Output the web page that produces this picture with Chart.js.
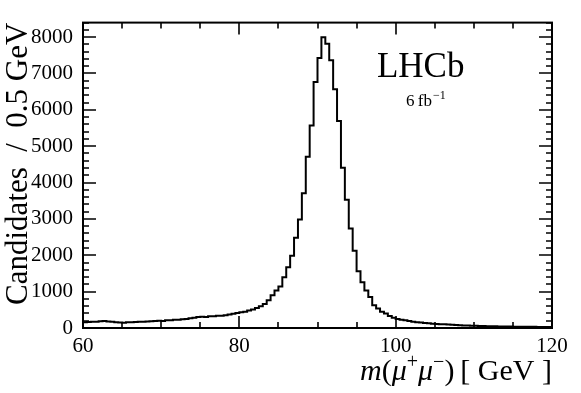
<!DOCTYPE html>
<html>
<head>
<meta charset="utf-8">
<script src="https://cdn.jsdelivr.net/npm/chart.js@4.4.1/dist/chart.umd.min.js"></script>
<style>
html,body{margin:0;padding:0;background:#fff;}
#wrap{width:581px;height:393px;}
</style>
</head>
<body>
<div id="wrap"><canvas id="c" width="581" height="393"></canvas></div>
<script>
// ---- data ----
const binStart = 60;      // GeV, lower edge of first bin
const binWidth = 0.5;     // GeV per bin
const counts = [
  160, 165, 170, 175, 185, 190, 180, 170, 160, 150,   // 60.0 - 64.5
  145, 155, 160, 165, 170, 175, 180, 185, 190, 200,   // 65.0 - 69.5
  195, 210, 215, 225, 230, 240, 250, 265, 280, 300,   // 70.0 - 74.5
  310, 305, 320, 325, 335, 340, 350, 370, 390, 410,   // 75.0 - 79.5
  430, 450, 480, 510, 550, 600, 660, 760, 898, 1034,  // 80.0 - 84.5
  1143, 1397, 1669, 1986, 2485, 2984, 3709, 4707, 5570, 6767, // 85.0 - 89.5
  7428, 8000, 7818, 7365, 6566, 5695, 4408, 3528, 2739, 2122, // 90.0 - 94.5
  1560, 1261, 1034, 853, 626, 535, 444, 399, 327, 280, // 95.0 - 99.5
  250, 230, 210, 195, 175, 160, 150, 140, 130, 120,    // 100.0 - 104.5
  110, 105, 100, 95, 88, 82, 78, 72, 68, 64,           // 105.0 - 109.5
  60, 56, 52, 50, 48, 45, 43, 41, 40, 38,              // 110.0 - 114.5
  36, 35, 34, 33, 32, 31, 30, 30, 29, 28               // 115.0 - 119.5
];
const xTickValues = [60, 80, 100, 120];
const yTickValues = [0, 1000, 2000, 3000, 4000, 5000, 6000, 7000, 8000];
const yAxisTitle = 'Candidates\u2002/\u20020.5 GeV';
const experimentLabel = 'LHCb';
const lumiValue = '6';
const lumiUnit = 'fb';
const lumiExp = '\u22121';

// ---- build library points (left bin edges + closing edge) ----
const histPoints = counts.map((v, i) => ({ x: binStart + i * binWidth, y: v }));
histPoints.push({ x: binStart + counts.length * binWidth, y: counts[counts.length - 1] });

const SERIF = '"Liberation Serif", "DejaVu Serif", serif';

const frameAndLabels = {
  id: 'frameAndLabels',
  afterDraw(chart) {
    const { ctx, chartArea: a, scales: { x, y } } = chart;
    ctx.save();
    ctx.strokeStyle = '#000';
    ctx.fillStyle = '#000';
    // frame
    ctx.lineWidth = 2;
    ctx.strokeRect(a.left, a.top, a.right - a.left, a.bottom - a.top);
    // inward ticks
    ctx.lineWidth = 1.6;
    ctx.beginPath();
    for (let v = x.min; v <= x.max + 1e-9; v += 5) {
      const px = Math.round(x.getPixelForValue(v));
      const len = xTickValues.includes(v) ? 12 : 6;
      ctx.moveTo(px, a.bottom); ctx.lineTo(px, a.bottom - len);
      ctx.moveTo(px, a.top); ctx.lineTo(px, a.top + len);
    }
    for (let v = 0; v <= y.max + 1e-9; v += 200) {
      const py = Math.round(y.getPixelForValue(v));
      const len = yTickValues.includes(v) ? 13 : 6;
      ctx.moveTo(a.left, py); ctx.lineTo(a.left + len, py);
      ctx.moveTo(a.right, py); ctx.lineTo(a.right - len, py);
    }
    ctx.stroke();

    // LHCb label
    const w = a.right - a.left, h = a.bottom - a.top;
    ctx.textAlign = 'center';
    ctx.textBaseline = 'alphabetic';
    ctx.font = '35px ' + SERIF;
    ctx.fillText(experimentLabel, a.left + 0.72 * w, a.top + 0.177 * h);
    // 6 fb^-1
    const s1 = lumiValue + '\u2009' + lumiUnit;
    ctx.font = '17px ' + SERIF;
    const w1 = ctx.measureText(s1).width;
    ctx.font = '12px ' + SERIF;
    const w2 = ctx.measureText(lumiExp).width;
    let lx = a.left + 0.73 * w - (w1 + w2) / 2;
    const ly = a.top + 0.272 * h;
    ctx.textAlign = 'left';
    ctx.font = '17px ' + SERIF;
    ctx.fillText(s1, lx, ly);
    ctx.font = '12px ' + SERIF;
    ctx.fillText(lumiExp, lx + w1 + 1, ly - 7);

    // x-axis title: m(mu+ mu-) [ GeV ], right-aligned to plot
    const parts = [
      { t: 'm', f: 'italic 30px ' + SERIF, dy: 0 },
      { t: '(', f: '30px ' + SERIF, dy: 0 },
      { t: '\u03bc', f: 'italic 30px ' + SERIF, dy: 0 },
      { t: '+', f: '20px ' + SERIF, dy: -12 },
      { t: '\u03bc', f: 'italic 30px ' + SERIF, dy: 0 },
      { t: '\u2212', f: '20px ' + SERIF, dy: -12 },
      { t: ')', f: '30px ' + SERIF, dy: 0 },
      { t: '\u2009[ GeV ]', f: '30px ' + SERIF, dy: 0 }
    ];
    let total = 0;
    parts.forEach(p => { ctx.font = p.f; p.w = ctx.measureText(p.t).width; total += p.w; });
    let tx = a.right - total;
    const ty = 380;
    parts.forEach(p => { ctx.font = p.f; ctx.fillText(p.t, tx, ty + p.dy); tx += p.w; });
    ctx.restore();
  }
};

new Chart(document.getElementById('c'), {
  type: 'line',
  data: {
    datasets: [{
      data: histPoints,
      borderColor: '#000',
      borderWidth: 2,
      pointRadius: 0,
      stepped: 'before',
      fill: false,
      tension: 0
    }]
  },
  options: {
    responsive: false,
    animation: false,
    devicePixelRatio: 1,
    layout: { padding: { top: 19, right: 29, left: 0, bottom: 0 } },
    plugins: { legend: { display: false }, tooltip: { enabled: false }, title: { display: false } },
    scales: {
      x: {
        type: 'linear',
        min: 60, max: 120,
        afterBuildTicks: s => { s.ticks = xTickValues.map(v => ({ value: v })); },
        afterFit: s => { s.height = 65; },
        grid: { display: false, drawTicks: false },
        border: { display: false },
        ticks: { color: '#000', font: { family: SERIF, size: 21 }, padding: 6, maxRotation: 0, autoSkip: false,
                 callback: v => String(v) }
      },
      y: {
        type: 'linear',
        min: 0, max: 8400,
        afterBuildTicks: s => { s.ticks = yTickValues.map(v => ({ value: v })); },
        afterFit: s => { s.width = 83; },
        grid: { display: false, drawTicks: false },
        border: { display: false },
        ticks: { color: '#000', font: { family: SERIF, size: 21 }, padding: 10, autoSkip: false,
                 callback: v => String(v) },
        title: { display: true, text: yAxisTitle, align: 'end', color: '#000', font: { family: SERIF, size: 31 }, padding: { top: 0, bottom: 0 } }
      }
    }
  },
  plugins: [frameAndLabels]
});
</script>
</body>
</html>
